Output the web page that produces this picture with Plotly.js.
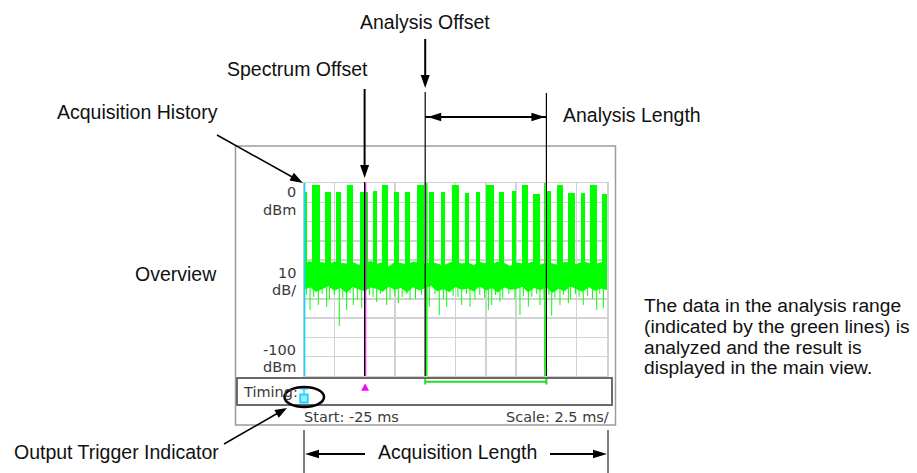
<!DOCTYPE html>
<html>
<head>
<meta charset="utf-8">
<script src="https://cdn.plot.ly/plotly-3.0.1.min.js"></script>
<style>
  html, body { margin: 0; padding: 0; background: #ffffff; }
  #chart { width: 917px; height: 473px; }
</style>
</head>
<body>
<div id="chart"></div>
<script>
// Time axis (ms) and level axis (dBm) of the overview display
const timeRange = [-25, 0];
const levelRange = [-100, 0];
const timeDiv = 2.5;      // ms per division
const levelDiv = 10;      // dB per division

// Marker settings (ms)
const spectrumOffset = -20;
const analysisOffset = -15;
const analysisLength = 10;

// Burst segments: start / end time (ms) and peak level (dBm)
const burstStart = [-25.0, -24.34, -23.27, -22.32, -21.48, -20.38, -19.31, -18.59, -17.57, -16.67,
                    -15.70, -14.69, -13.72, -12.81, -11.72, -10.83, -9.98, -8.91, -7.86, -7.04,
                    -6.11, -5.06, -4.15, -3.22, -2.15, -1.40, -0.44];
const burstEnd   = [-24.75, -23.68, -22.77, -21.91, -20.93, -19.68, -18.98, -18.07, -17.20, -16.25,
                    -15.10, -14.27, -13.33, -12.21, -11.35, -10.48, -9.32, -8.50, -7.53, -6.49,
                    -5.53, -4.65, -3.61, -2.64, -1.82, -0.83, 0.0];
const burstTop   = [-4.5, -1.0, -4.8, -4.8, -1.0, -4.8, -4.3, -1.0, -4.8, -4.5,
                    -1.0, -4.8, -4.8, -1.0, -5.0, -4.5, -1.0, -4.8, -4.3, -1.0,
                    -5.5, -4.0, -1.0, -5.0, -5.0, -1.0, -5.5];
const burstBase = -45;

// Noise floor band between bursts (dBm)
const floorX = [-25, -24.5, -24, -23.5, -23, -22.5, -22, -21.5, -21, -20.5,
                -20, -19.5, -19, -18.5, -18, -17.5, -17, -16.5, -16, -15.5,
                -15, -14.5, -14, -13.5, -13, -12.5, -12, -11.5, -11, -10.5,
                -10, -9.5, -9, -8.5, -8, -7.5, -7, -6.5, -6, -5.5,
                -5, -4.5, -4, -3.5, -3, -2.5, -2, -1.5, -1, -0.5, 0];
const floorTop = [-41.5, -40.8, -41.9, -41.2, -42.3, -40.9, -41.6, -42.0, -41.1, -42.6,
                  -41.4, -40.7, -42.1, -41.3, -43.5, -41.0, -41.8, -42.4, -40.9, -41.7,
                  -42.2, -41.1, -41.9, -43.0, -41.4, -40.8, -42.0, -41.5, -42.7, -41.2,
                  -41.8, -42.3, -40.9, -41.6, -43.2, -41.3, -42.0, -41.7, -40.8, -42.5,
                  -41.4, -41.9, -42.8, -41.1, -41.6, -42.2, -40.9, -41.8, -42.4, -41.3, -41.7];
const floorBottom = [-55.0, -53.8, -56.2, -54.5, -53.2, -55.6, -54.1, -56.8, -53.5, -54.9,
                     -55.7, -53.9, -54.6, -56.1, -53.4, -55.2, -54.0, -56.5, -53.7, -55.4,
                     -54.3, -53.1, -55.9, -54.7, -56.3, -53.6, -55.1, -54.4, -56.0, -53.3,
                     -55.5, -54.2, -56.6, -53.8, -55.0, -54.8, -53.5, -56.4, -54.1, -55.3,
                     -53.9, -56.7, -54.6, -55.8, -53.2, -54.9, -56.1, -53.7, -55.6, -54.4, -55.2];

// Downward noise spikes below the band: time (ms) and lowest level (dBm)
const spikeX = [-24.50, -23.82, -23.13, -22.09, -21.48, -20.93, -20.24, -19.00, -18.18, -17.22,
                -16.25, -14.66, -13.84, -13.23, -11.99, -11.30, -9.79, -9.51, -8.83, -7.18,
                -6.49, -5.53, -4.56, -3.88, -3.19, -1.96, -0.85, -0.30,
                -24.8, -24.2, -23.5, -22.9, -22.5, -21.8, -21.2, -20.6, -19.6, -19.3,
                -18.7, -17.9, -17.5, -16.9, -16.5, -15.8, -15.3, -14.9, -14.2, -13.5,
                -12.7, -12.3, -11.6, -10.9, -10.5, -10.1, -9.2, -8.6, -8.1, -7.6,
                -6.9, -6.2, -5.8, -5.2, -4.8, -4.3, -3.6, -3.0, -2.6, -2.3,
                -1.6, -1.2, -0.6];
const spikeLow = [-65.8, -63.2, -64.1, -74.1, -65.8, -63.2, -64.9, -61.7, -63.2, -62.3,
                  -60.6, -64.1, -68.4, -64.1, -63.2, -64.1, -65.8, -63.2, -61.5, -68.4,
                  -64.1, -63.2, -68.7, -63.2, -62.3, -63.2, -65.8, -64.9,
                  -58, -59, -57.5, -60, -58, -59.5, -57, -60.5, -58, -59,
                  -57.5, -60, -58.5, -59, -57.5, -60, -58, -59.5, -57.5, -60,
                  -58.5, -59, -57.5, -60, -58, -59.5, -58, -59.5, -57.5, -60,
                  -58.5, -59, -57.5, -60, -58, -59.5, -58, -60, -57.5, -59,
                  -58.5, -60, -57.5];
const spikeFrom = -52;

// Level labels at the left of the graticule
const levelLabelText = ['0', 'dBm', '10', 'dB/', '-100', 'dBm'];
const levelLabelY    = [192, 209.5, 272.5, 289.5, 350, 366.5];

// Explanatory paragraph
const noteLines = ['The data in the analysis range',
                   '(indicated by the green lines) is',
                   'analyzed and the result is',
                   'displayed in the main view.'];

// ---------- page geometry helpers (pixel -> paper) ----------
const W = 917, H = 473;
const px = x => x / W;
const py = y => 1 - y / H;

const GREEN = '#00ff00';
const CYAN = '#18d4ff';
const MAGENTA = '#ff00ff';
const BIG_FONT = { family: "'Liberation Sans', Arial, Helvetica, sans-serif", size: 19.5, color: '#111111' };
const NOTE_FONT = { family: "'Liberation Sans', Arial, Helvetica, sans-serif", size: 19.2, color: '#111111' };
const SMALL_FONT = { family: "'DejaVu Sans', Verdana, sans-serif", size: 14.5, color: '#3a3a3a' };

// ---------- traces ----------
const burstMid = burstStart.map((s, i) => (s + burstEnd[i]) / 2);
const burstWidth = burstStart.map((s, i) => burstEnd[i] - s);

const sx = [], sy = [];
spikeX.forEach((x, i) => { sx.push(x, x, null); sy.push(spikeFrom, spikeLow[i], null); });

const traces = [
  { type: 'bar', x: burstMid, width: burstWidth, base: burstBase,
    y: burstTop.map(t => t - burstBase),
    marker: { color: GREEN, line: { width: 0 } }, hoverinfo: 'skip' },
  { type: 'scatter', mode: 'lines', x: sx, y: sy,
    line: { color: GREEN, width: 1 }, hoverinfo: 'skip' },
  { type: 'scatter', mode: 'lines', x: floorX, y: floorTop,
    line: { color: GREEN, width: 1 }, hoverinfo: 'skip' },
  { type: 'scatter', mode: 'lines', x: floorX, y: floorBottom, fill: 'tonexty',
    fillcolor: GREEN, line: { color: GREEN, width: 1 }, hoverinfo: 'skip' }
];

// ---------- annotation geometry ----------
const analysisEnd = analysisOffset + analysisLength;

// filled arrowhead in paper coordinates, computed from pixel points
function arrowHead(tipX, tipY, fromX, fromY, len, half) {
  const dx = tipX - fromX, dy = tipY - fromY;
  const d = Math.hypot(dx, dy);
  const ux = dx / d, uy = dy / d;
  const bx = tipX - ux * len, by = tipY - uy * len;
  const p1 = [bx - uy * half, by + ux * half];
  const p2 = [bx + uy * half, by - ux * half];
  return {
    type: 'path', xref: 'paper', yref: 'paper',
    path: `M ${px(tipX)},${py(tipY)} L ${px(p1[0])},${py(p1[1])} L ${px(p2[0])},${py(p2[1])} Z`,
    fillcolor: '#000000', line: { width: 0 }
  };
}
function paperLine(x0, y0, x1, y1, w) {
  return { type: 'line', xref: 'paper', yref: 'paper', x0: px(x0), y0: py(y0), x1: px(x1), y1: py(y1),
           line: { color: '#000000', width: w } };
}
// vertical line at a time value, spanning pixel rows y0..y1 with a pixel x offset
function timeVLine(t, dxPix, y0, y1, color, w, ref) {
  return { type: 'line', xref: ref || 'x', yref: 'paper', xsizemode: 'pixel', xanchor: t,
           x0: dxPix, x1: dxPix, y0: py(y0), y1: py(y1), line: { color: color, width: w } };
}
// pixel-offset path anchored at a time value
function timePath(t, pts, color, ref) {
  const d = pts.map((p, i) => (i ? 'L ' : 'M ') + p[0] + ',' + py(p[1])).join(' ') + ' Z';
  return { type: 'path', xref: ref || 'x', yref: 'paper', xsizemode: 'pixel', xanchor: t,
           path: d, fillcolor: color, line: { width: 0 } };
}
function timeHLine(t, x0, x1, y, w, ref) {
  return { type: 'line', xref: ref || 'x', yref: 'paper', xsizemode: 'pixel', xanchor: t,
           x0: x0, x1: x1, y0: py(y), y1: py(y), line: { color: '#000000', width: w } };
}

const shapes = [
  // instrument frame
  { type: 'rect', xref: 'paper', yref: 'paper', x0: px(235.5), x1: px(615.5), y0: py(425), y1: py(146),
    line: { color: '#9c9c9c', width: 1.5 }, fillcolor: 'rgba(0,0,0,0)' },
  // timing bar
  { type: 'rect', xref: 'paper', yref: 'paper', x0: px(237), x1: px(612), y0: py(405), y1: py(378),
    line: { color: '#6a6a6a', width: 2 }, fillcolor: '#ffffff' },
  // analysis range bracket in the timing bar
  { type: 'path', xref: 'x', yref: 'paper',
    path: `M ${analysisOffset},${py(379)} L ${analysisOffset},${py(384.5)} M ${analysisOffset},${py(381.7)} L ${analysisEnd},${py(381.7)} M ${analysisEnd},${py(379)} L ${analysisEnd},${py(384.5)}`,
    line: { color: '#22dd22', width: 2 } },
  // spectrum offset marker in the timing bar
  timePath(spectrumOffset, [[-3.5, 390.8], [4.5, 390.8], [0.5, 383.5]], MAGENTA),
  // acquisition start (trigger) line at the left edge
  timeVLine(0, 0.6, 183, 376, CYAN, 1.6, 'x domain'),
  // output trigger indicator glyph
  { type: 'line', xref: 'x domain', yref: 'paper', xsizemode: 'pixel', xanchor: 0,
    x0: -4, x1: 4, y0: py(388.5), y1: py(388.5), line: { color: CYAN, width: 2 } },
  { type: 'line', xref: 'x domain', yref: 'paper', xsizemode: 'pixel', xanchor: 0,
    x0: 0, x1: 0, y0: py(388.5), y1: py(403), line: { color: CYAN, width: 1.5 } },
  { type: 'rect', xref: 'x domain', yref: 'paper', xsizemode: 'pixel', xanchor: 0,
    x0: -3.8, x1: 3.8, y0: py(402.5), y1: py(394.5), line: { color: CYAN, width: 1.8 }, fillcolor: '#9feeff' },
  // ring around the indicator
  { type: 'circle', xref: 'paper', yref: 'paper', x0: px(284.5), x1: px(324), y0: py(407), y1: py(387),
    line: { color: '#000000', width: 2.5 } },

  // spectrum offset: marker line and pointer
  timeVLine(spectrumOffset, 1.2, 183, 376, MAGENTA, 1),
  timeVLine(spectrumOffset, 0, 182, 376, '#000000', 1.2),
  timeVLine(spectrumOffset, 0, 89, 168, '#000000', 2),
  timePath(spectrumOffset, [[-4.5, 165], [4.5, 165], [0, 178]], '#000000'),

  // analysis offset: pointer and range boundaries
  timeVLine(analysisOffset, 0, 39, 78, '#000000', 2),
  timePath(analysisOffset, [[-4.5, 75], [4.5, 75], [0, 88]], '#000000'),
  timeVLine(analysisOffset, 1.6, 183, 376, GREEN, 1.5),
  timeVLine(analysisOffset, 0, 92, 376, '#000000', 1.2),
  timeVLine(analysisEnd, -1.6, 183, 376, GREEN, 1.5),
  timeVLine(analysisEnd, 0, 93, 376, '#000000', 1.2),

  // analysis length double arrow
  { type: 'line', xref: 'x', yref: 'paper', x0: analysisOffset, x1: analysisEnd, y0: py(117), y1: py(117),
    line: { color: '#000000', width: 2 } },
  timePath(analysisOffset, [[2.5, 117], [16, 112.8], [16, 121.2]], '#000000'),
  timePath(analysisEnd, [[-1.5, 117], [-15, 112.8], [-15, 121.2]], '#000000'),

  // acquisition history pointer
  paperLine(217, 135, 294, 178, 1.5),
  arrowHead(303, 183, 217, 135, 13, 4.5),

  // output trigger indicator pointer
  paperLine(224, 444, 278, 413, 1.5),
  arrowHead(287, 408, 224, 444, 12, 4.5),

  // acquisition length span
  timeVLine(0, 0, 430, 473, '#000000', 1, 'x domain'),
  timeVLine(1, 1, 430, 473, '#000000', 1, 'x domain'),
  timeHLine(0, 10, 61, 454, 2, 'x domain'),
  timePath(0, [[1, 454], [15, 449.8], [15, 458.2]], '#000000', 'x domain'),
  timeHLine(1, -57, -10, 454, 2, 'x domain'),
  timePath(1, [[0, 454], [-14, 449.8], [-14, 458.2]], '#000000', 'x domain')
];

// ---------- text ----------
function bigText(text, x, y, xanchor, font) {
  return { text: text, x: px(x), y: py(y), xref: 'paper', yref: 'paper',
           xanchor: xanchor || 'center', yanchor: 'middle', showarrow: false, font: font || BIG_FONT };
}
function smallText(text, x, y, xanchor) {
  return { text: text, x: px(x), y: py(y), xref: 'paper', yref: 'paper',
           xanchor: xanchor, yanchor: 'middle', showarrow: false, font: SMALL_FONT };
}

const annotations = [
  bigText('Analysis Offset', 425, 22),
  bigText('Spectrum Offset', 297.5, 69),
  bigText('Acquisition History', 137, 112),
  bigText('Analysis Length', 561, 115.3, 'left'),
  bigText('Overview', 219, 274, 'right'),
  bigText('Output Trigger Indicator', 12, 452, 'left'),
  bigText('Acquisition Length', 457, 452),
  smallText('Timing:', 241, 391.5, 'left'),
  smallText('Start: ' + timeRange[0] + ' ms', 301.5, 416.5, 'left'),
  smallText('Scale: ' + timeDiv + ' ms/', 611, 416.5, 'right')
];
levelLabelText.forEach((t, i) => annotations.push(smallText(t, 298, levelLabelY[i], 'right')));
noteLines.forEach((t, i) => annotations.push(bigText(t, 642, 305.5 + i * 20.8, 'left', NOTE_FONT)));

const gridStyle = { showgrid: true, gridcolor: '#d2d2d2', gridwidth: 1.5, zeroline: false,
                    showticklabels: false, ticks: '', showline: true, mirror: true,
                    linecolor: '#d2d2d2', linewidth: 1.5, fixedrange: true };

const layout = {
  width: W, height: H, autosize: false,
  margin: { l: 0, r: 0, t: 0, b: 0, pad: 0 },
  paper_bgcolor: '#ffffff', plot_bgcolor: 'rgba(0,0,0,0)',
  showlegend: false, barmode: 'overlay', bargap: 0,
  xaxis: Object.assign({ domain: [px(304), px(607)], range: timeRange, tick0: timeRange[0], dtick: timeDiv }, gridStyle),
  yaxis: Object.assign({ domain: [py(376), py(183)], range: levelRange, tick0: levelRange[0], dtick: levelDiv }, gridStyle),
  shapes: shapes,
  annotations: annotations
};

Plotly.newPlot('chart', traces, layout, { staticPlot: true, displayModeBar: false });
</script>
</body>
</html>
